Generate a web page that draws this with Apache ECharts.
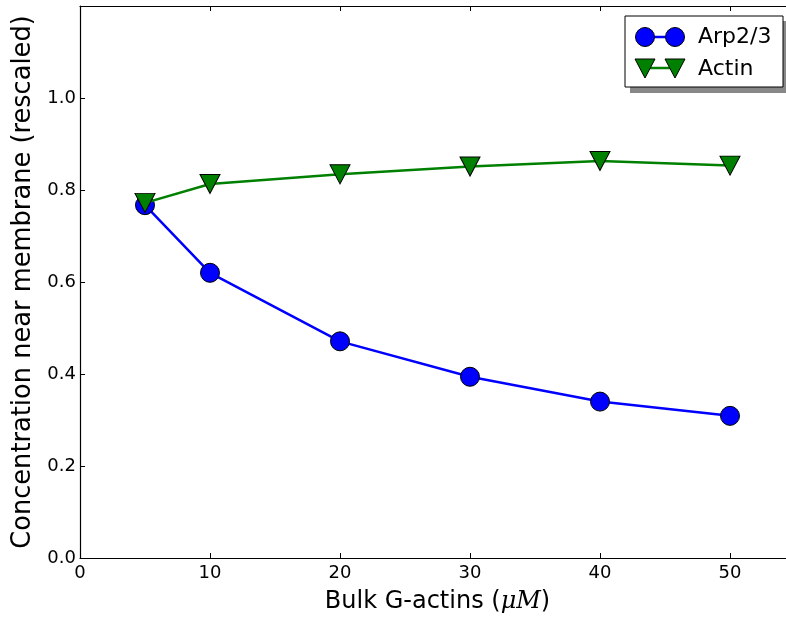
<!DOCTYPE html>
<html>
<head>
<meta charset="utf-8">
<script src="https://cdn.jsdelivr.net/npm/echarts@6/dist/echarts.min.js"></script>
<style>html,body{margin:0;padding:0;background:#fff;}#c{width:786px;height:617px;}</style>
</head>
<body>
<div id="c"></div>
<script>
const xValues = [5, 10, 20, 30, 40, 50];
const arpValues = [0.767, 0.620, 0.471, 0.394, 0.340, 0.309];
const actinValues = [0.772, 0.813, 0.834, 0.851, 0.863, 0.853];
const xTicks = [0, 10, 20, 30, 40, 50];
const yTicks = [0.0, 0.2, 0.4, 0.6, 0.8, 1.0];
const seriesNames = ['Arp2/3', 'Actin'];

const FONT = 'DejaVu Sans';
const chart = echarts.init(document.getElementById('c'), null, {renderer: 'canvas'});

const pair = (xs, ys) => xs.map((x, i) => [x, ys[i]]);

const option = {
  animation: false,
  backgroundColor: '#fff',
  grid: {left: 80, top: 6, width: 715, height: 552, containLabel: false, outerBoundsMode: 'none'},
  xAxis: [{
    type: 'value', min: 0, max: 55, interval: 10,
    axisLine: {show: true, onZero: false, lineStyle: {color: '#000', width: 1.2}},
    axisTick: {show: true, inside: true, length: 5, lineStyle: {color: '#000'}},
    splitLine: {show: false},
    axisLabel: {
      fontFamily: FONT, fontSize: 18, color: '#000', margin: 6,
      formatter: v => (xTicks.includes(v) ? String(v) : '')
    },
    name: 'Bulk G-actins ({i|μM})',
    nameLocation: 'middle', nameGap: 32,
    nameTextStyle: {
      fontFamily: FONT, fontSize: 24, color: '#000',
      rich: {i: {fontFamily: 'DejaVu Serif', fontStyle: 'italic', fontSize: 24, color: '#000'}}
    }
  }, {
    type: 'value', min: 0, max: 55, interval: 10, position: 'top',
    axisLine: {show: true, onZero: false, lineStyle: {color: '#000', width: 1.2}},
    axisTick: {show: true, inside: true, length: 5, lineStyle: {color: '#000'}},
    axisLabel: {show: false}, splitLine: {show: false}
  }],
  yAxis: [{
    type: 'value', min: 0, max: 1.2, interval: 0.2,
    axisLine: {show: true, onZero: false, lineStyle: {color: '#000', width: 1.2}},
    axisTick: {show: true, inside: true, length: 5, lineStyle: {color: '#000'}},
    splitLine: {show: false},
    axisLabel: {
      fontFamily: FONT, fontSize: 18, color: '#000', margin: 4,
      formatter: v => {
        const t = yTicks.find(t => Math.abs(t - v) < 1e-6);
        return t === undefined ? '' : t.toFixed(1);
      }
    },
    name: 'Concentration near membrane (rescaled)',
    nameLocation: 'middle', nameGap: 41, nameRotate: 90,
    nameTextStyle: {fontFamily: FONT, fontSize: 25.7, color: '#000'}
  }],
  series: [{
    name: seriesNames[0], type: 'line', data: pair(xValues, arpValues),
    symbol: 'circle', symbolSize: 19,
    lineStyle: {color: '#0000ff', width: 2.5},
    itemStyle: {color: '#0000ff', borderColor: '#000', borderWidth: 1},
    z: 2
  }, {
    name: seriesNames[1], type: 'line', data: pair(xValues, actinValues),
    symbol: 'triangle', symbolSize: [20, 19], symbolRotate: 180,
    lineStyle: {color: '#008000', width: 2.5},
    itemStyle: {color: '#008000', borderColor: '#000', borderWidth: 1},
    z: 3
  }],
  graphic: [
    {type: 'rect', shape: {x: 630, y: 21, width: 156, height: 72}, style: {fill: '#888'}, z: 10},
    {type: 'rect', shape: {x: 625, y: 16, width: 158, height: 71}, style: {fill: '#fff', stroke: '#000', lineWidth: 1}, z: 11},
    {type: 'line', shape: {x1: 645, y1: 37, x2: 675, y2: 37}, style: {stroke: '#0000ff', lineWidth: 2.5}, z: 12},
    {type: 'circle', shape: {cx: 645, cy: 37, r: 9.5}, style: {fill: '#0000ff', stroke: '#000', lineWidth: 1}, z: 13},
    {type: 'circle', shape: {cx: 675, cy: 37, r: 9.5}, style: {fill: '#0000ff', stroke: '#000', lineWidth: 1}, z: 13},
    {type: 'text', x: 698, y: 37, style: {text: seriesNames[0], font: '22px "DejaVu Sans"', fill: '#000', verticalAlign: 'middle'}, z: 13},
    {type: 'line', shape: {x1: 645, y1: 68, x2: 675, y2: 68}, style: {stroke: '#008000', lineWidth: 2.5}, z: 12},
    {type: 'polygon', shape: {points: [[635, 59], [655, 59], [645, 78]]}, style: {fill: '#008000', stroke: '#000', lineWidth: 1}, z: 13},
    {type: 'polygon', shape: {points: [[665, 59], [685, 59], [675, 78]]}, style: {fill: '#008000', stroke: '#000', lineWidth: 1}, z: 13},
    {type: 'text', x: 698, y: 69, style: {text: seriesNames[1], font: '22px "DejaVu Sans"', fill: '#000', verticalAlign: 'middle'}, z: 13}
  ]
};
chart.setOption(option);
</script>
</body>
</html>
